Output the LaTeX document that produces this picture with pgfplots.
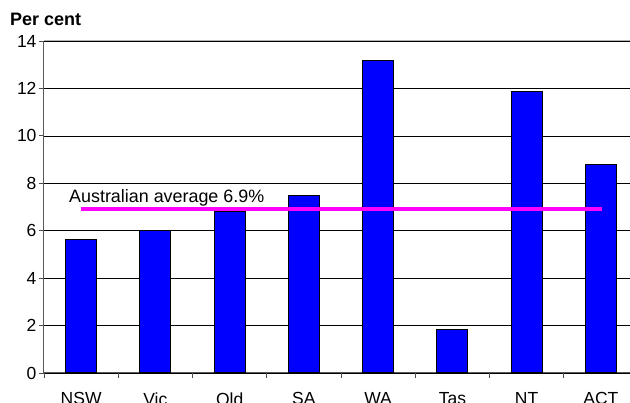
\documentclass[border=0pt]{standalone}
\usepackage{pgfplots}
\pgfplotsset{compat=1.18}
\usepackage{fontspec}
\setmainfont{Liberation Sans}
\begin{document}
\begin{tikzpicture}
\begin{axis}[name=ax,
  width=594pt, height=332pt, scale only axis,
  xmin=-0.5, xmax=7.5, ymin=0, ymax=14,
  ytick={0,2,...,14},
  xtick={0,...,7}, xticklabels={NSW,Vic,Qld,SA,WA,Tas,NT,ACT},
  minor xtick={-0.5,0.5,...,7.5},
  major x tick style={draw=none},
  axis x line*=bottom, axis y line*=left,
  axis line style={-, draw=black!65, line width=1pt},
  tick align=outside,
  major tick length=5pt, minor tick length=5pt,
  tick style={black!70, line width=0.8pt},
  ymajorgrids, major grid style={black, line width=0.7pt},
  tick label style={font=\fontsize{17.5}{19}\selectfont},
  yticklabel style={xshift=1pt},
  xticklabel style={yshift=-11pt},
  /pgf/number format/assume math mode=true,
  ybar, bar width=31pt,
]
\addplot[fill=blue, draw=black, line width=1pt] coordinates {
  (0,5.65) (1,5.99) (2,6.79) (3,7.47) (4,13.16) (5,1.84) (6,11.87) (7,8.78)};
\addplot[sharp plot, draw={rgb,255:red,255;green,0;blue,255}, line width=3.8pt] coordinates {(0,6.9) (7.02,6.9)};
\draw[gray!60, line width=1pt] (axis cs:-0.5,14) -- (axis cs:7.5,14);
\node[anchor=base west, inner sep=0pt, font=\fontsize{17.9}{20}\selectfont] at (axis cs:-0.163,7.21) {Australian average 6.9\%};
\end{axis}
\node[anchor=base west, inner sep=0pt, font=\bfseries\fontsize{18}{20}\selectfont] at ([xshift=-34pt,yshift=15pt]ax.north west) {Per cent};
\pgfresetboundingbox
\path[use as bounding box] ([xshift=-44pt,yshift=-30pt]ax.south west) rectangle ++(630pt,403pt);
\end{tikzpicture}
\end{document}
